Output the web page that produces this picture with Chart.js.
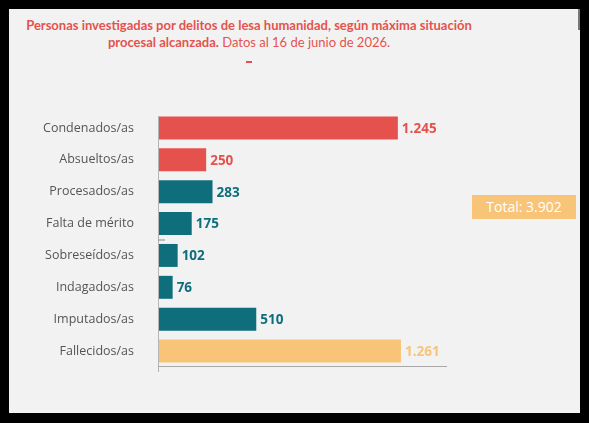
<!DOCTYPE html>
<html>
<head>
<meta charset="utf-8">
<script src="https://cdn.jsdelivr.net/npm/chart.js@4"></script>
<style>
  html, body { margin: 0; padding: 0; background: #000; }
  body { width: 589px; height: 423px; position: relative; overflow: hidden; font-family: 'Open Sans', sans-serif; }
  #panel { position: absolute; left: 9px; top: 9px; width: 571px; height: 404px; background: #f2f2f2; }
  #scroll { position: absolute; left: 578px; top: 9px; width: 2px; height: 21px; background: #777; }
  #title { position: absolute; left: 0px; top: 17px; width: 498px; text-align: center; color: #e5524e;
    font-family: Lato, sans-serif; font-size: 13px; line-height: 17px; white-space: nowrap; }
  #title b { font-weight: 700; }
  #dash { position: absolute; left: 246px; top: 61px; width: 6px; height: 2px; background: #e5524e; }
  #total { position: absolute; left: 472px; top: 195px; width: 104px; height: 24px; background: #f8c477;
    color: #fff; font-size: 14px; line-height: 24px; text-align: center; }
  #wrap { position: absolute; left: 9px; top: 9px; width: 571px; height: 404px; }
</style>
</head>
<body>
<div id="panel"></div>
<div id="scroll"></div>
<div id="title"><b>Personas investigadas por delitos de lesa humanidad, según máxima situación<br>procesal alcanzada.</b> Datos al 16 de junio de 2026.</div>
<div id="dash"></div>
<div id="total">Total: 3.902</div>
<div id="wrap"><canvas id="chart"></canvas></div>
<script>
const CATEGORIES = ['Condenados/as', 'Absueltos/as', 'Procesados/as', 'Falta de mérito',
  'Sobreseídos/as', 'Indagados/as', 'Imputados/as', 'Fallecidos/as'];
const VALUES = [1245, 250, 283, 175, 102, 76, 510, 1261];

const RED = '#e5524e';
const TEAL = '#0e6e7c';
const ORANGE = '#f8c477';
const BAR_COLORS = [RED, RED, TEAL, TEAL, TEAL, TEAL, TEAL, ORANGE];

const fmt = n => String(n).replace(/\B(?=(\d{3})+(?!\d))/g, '.');

// value labels at the end of each bar
const valueLabels = {
  id: 'valueLabels',
  afterDatasetsDraw(chart) {
    const { ctx } = chart;
    const meta = chart.getDatasetMeta(0);
    ctx.save();
    ctx.font = "bold 13.5px 'Open Sans', sans-serif";
    ctx.textBaseline = 'middle';
    ctx.textAlign = 'left';
    meta.data.forEach((bar, i) => {
      ctx.fillStyle = BAR_COLORS[i];
      ctx.fillText(fmt(VALUES[i]), bar.x + 4, bar.y + 1);
    });
    ctx.restore();
  }
};

// axis lines + the little stray tick between categories 3 and 4
const axisLines = {
  id: 'axisLines',
  afterDraw(chart) {
    const { ctx, chartArea } = chart;
    const y = chart.scales.y;
    ctx.save();
    ctx.strokeStyle = '#b5b5b5';
    ctx.lineWidth = 1;
    ctx.beginPath();
    ctx.moveTo(chartArea.left + 0.5, y.getPixelForValue(0) - 12);
    ctx.lineTo(chartArea.left + 0.5, chartArea.bottom + 5);
    ctx.stroke();
    ctx.strokeStyle = '#a8a8a8';
    ctx.beginPath();
    ctx.moveTo(chartArea.left, chartArea.bottom - 0.5);
    ctx.lineTo(chartArea.right, chartArea.bottom - 0.5);
    ctx.stroke();
    const mid = (y.getPixelForValue(3) + y.getPixelForValue(4)) / 2;
    ctx.strokeStyle = '#888';
    ctx.beginPath();
    ctx.moveTo(chartArea.left, mid + 0.5);
    ctx.lineTo(chartArea.left + 7, mid + 0.5);
    ctx.stroke();
    ctx.restore();
  }
};

new Chart(document.getElementById('chart'), {
  type: 'bar',
  data: {
    labels: CATEGORIES,
    datasets: [{
      data: VALUES,
      backgroundColor: BAR_COLORS,
      borderWidth: 0,
      categoryPercentage: 0.72,
      barPercentage: 1,
    }],
  },
  options: {
    indexAxis: 'y',
    responsive: true,
    maintainAspectRatio: false,
    animation: false,
    layout: { padding: { top: 103, right: 133, left: 0, bottom: 0 } },
    plugins: { legend: { display: false }, tooltip: { enabled: false } },
    scales: {
      x: {
        min: 0, max: 1500,
        display: true,
        ticks: { display: false },
        grid: { display: false },
        border: { display: false },
        afterFit(scale) { scale.height = 46; },
      },
      y: {
        ticks: { color: '#555', padding: 16, font: { family: "'Open Sans', sans-serif", size: 12.5 } },
        grid: { display: false },
        border: { display: false },
        afterFit(scale) { scale.width = 149; },
      },
    },
  },
  plugins: [valueLabels, axisLines],
});
</script>
</body>
</html>
